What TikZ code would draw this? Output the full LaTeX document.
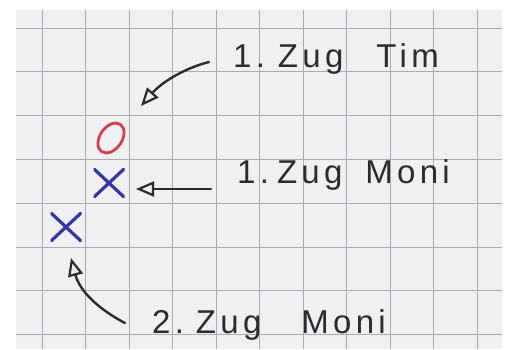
\documentclass[tikz,border=0pt]{standalone}
\usepackage{fontspec}
\setmainfont{Liberation Sans}
\usetikzlibrary{arrows.meta}
\definecolor{paper}{HTML}{F0F0F2}
\definecolor{gridc}{HTML}{ABABB3}
\definecolor{ink}{HTML}{2C2C30}
\definecolor{redink}{HTML}{D2404E}
\definecolor{blueink}{HTML}{3434A6}
\tikzset{
  gridline/.style={draw=gridc, line width=1pt},
  label/.style={anchor=base west, inner sep=0pt, text=ink,
    font=\fontsize{33}{37}\selectfont\addfontfeatures{LetterSpace=13}},
  crossmark/.style={draw=none, minimum width=31pt, minimum height=29pt, inner sep=0pt,
    path picture={\draw[blueink, line width=3.2pt, line cap=round]
      (path picture bounding box.south west) -- (path picture bounding box.north east)
      (path picture bounding box.north west) -- (path picture bounding box.south east);}},
  pointer/.style={draw=ink, line width=2.4pt, line cap=round,
    -{Triangle[open, length=18pt, width=15pt, line width=2.2pt]}}
}
\begin{document}
\begin{tikzpicture}[x=1pt, y=-1pt]
\useasboundingbox (0,0) rectangle (508,349);
\fill[white] (0,0) rectangle (508,349);
\fill[paper] (16,10) rectangle (502,349);
\foreach \i in {0,...,10} \draw[gridline] ({42+43.5*\i},10) -- ({42+43.5*\i},349);
\foreach \j in {0,...,7} \draw[gridline] (16,{28+43.8*\j}) -- (502,{28+43.8*\j});
% marks
\node[crossmark] (x1) at (109,183) {};
\node[crossmark] (x2) at (66,227) {};
\draw[redink, line width=2.8pt, rotate around={55:(111,138)}] (111,138) ellipse [x radius=16.5pt, y radius=11pt];
\coordinate (o) at (111,138);
% labels
\node[label] (tim) at (233,67) {1.\hspace{13pt}Zug\hspace{33pt}Tim};
\node[label] (moni1) at (237,183) {1.\hspace{8pt}Zug\hspace{23pt}Moni};
\node[label] (moni2) at (152,333) {2.\hspace{12pt}Zug\hspace{40pt}Moni};
% arrows
\coordinate (t1) at (209,62);
\coordinate (h1) at (141,106);
\coordinate (t2) at (211,189);
\coordinate (h2) at (136,189);
\coordinate (t3) at (125,323);
\coordinate (h3) at (71,258);
\draw[pointer] (t1) .. controls (185,68) and (162,82) .. (h1);
\draw[pointer] (t2) -- (h2);
\draw[pointer] (t3) .. controls (100,310) and (80,292) .. (h3);
\end{tikzpicture}
\end{document}
